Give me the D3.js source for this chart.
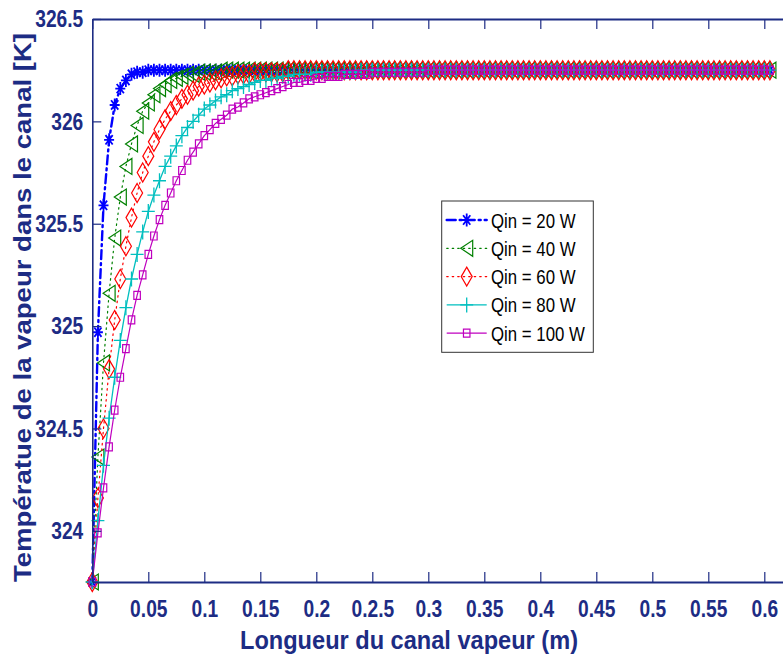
<!DOCTYPE html>
<html>
<head>
<meta charset="utf-8">
<script src="https://cdn.jsdelivr.net/npm/d3@7"></script>
<style>
  body { margin: 0; background: #fff; }
  svg { display: block; }
</style>
</head>
<body>
<svg id="chart" width="783" height="659"></svg>
<script>
// Position along the vapour channel (m)
const xs = [
  0, 0.005, 0.01, 0.015, 0.02, 0.025, 0.03, 0.035, 0.04, 0.045,
  0.05, 0.055, 0.06, 0.065, 0.07, 0.075, 0.08, 0.085, 0.09, 0.095,
  0.1, 0.105, 0.11, 0.115, 0.12, 0.125, 0.13, 0.135, 0.14, 0.145,
  0.15, 0.155, 0.16, 0.165, 0.17, 0.175, 0.18, 0.185, 0.19, 0.195,
  0.2, 0.205, 0.21, 0.215, 0.22, 0.225, 0.23, 0.235, 0.24, 0.245,
  0.25, 0.255, 0.26, 0.265, 0.27, 0.275, 0.28, 0.285, 0.29, 0.295,
  0.3, 0.305, 0.31, 0.315, 0.32, 0.325, 0.33, 0.335, 0.34, 0.345,
  0.35, 0.355, 0.36, 0.365, 0.37, 0.375, 0.38, 0.385, 0.39, 0.395,
  0.4, 0.405, 0.41, 0.415, 0.42, 0.425, 0.43, 0.435, 0.44, 0.445,
  0.45, 0.455, 0.46, 0.465, 0.47, 0.475, 0.48, 0.485, 0.49, 0.495,
  0.5, 0.505, 0.51, 0.515, 0.52, 0.525, 0.53, 0.535, 0.54, 0.545,
  0.55, 0.555, 0.56, 0.565, 0.57, 0.575, 0.58, 0.585, 0.59, 0.595,
  0.6, 0.605
];

// Vapour temperature in the channel (K) for each heat input
const tQ20 = [
  323.75, 324.97, 325.59, 325.91, 326.08, 326.16, 326.20, 326.23, 326.24, 326.24,
  326.25, 326.25, 326.25, 326.25, 326.25, 326.25, 326.25, 326.25, 326.25, 326.25,
  326.25, 326.25, 326.25, 326.25, 326.25, 326.25, 326.25, 326.25, 326.25, 326.25,
  326.25, 326.25, 326.25, 326.25, 326.25, 326.25, 326.25, 326.25, 326.25, 326.25,
  326.25, 326.25, 326.25, 326.25, 326.25, 326.25, 326.25, 326.25, 326.25, 326.25,
  326.25, 326.25, 326.25, 326.25, 326.25, 326.25, 326.25, 326.25, 326.25, 326.25,
  326.25, 326.25, 326.25, 326.25, 326.25, 326.25, 326.25, 326.25, 326.25, 326.25,
  326.25, 326.25, 326.25, 326.25, 326.25, 326.25, 326.25, 326.25, 326.25, 326.25,
  326.25, 326.25, 326.25, 326.25, 326.25, 326.25, 326.25, 326.25, 326.25, 326.25,
  326.25, 326.25, 326.25, 326.25, 326.25, 326.25, 326.25, 326.25, 326.25, 326.25,
  326.25, 326.25, 326.25, 326.25, 326.25, 326.25, 326.25, 326.25, 326.25, 326.25,
  326.25, 326.25, 326.25, 326.25, 326.25, 326.25, 326.25, 326.25, 326.25, 326.25,
  326.25, 326.25
];
const tQ40 = [
  323.75, 324.36, 324.82, 325.16, 325.43, 325.63, 325.78, 325.89, 325.98, 326.05,
  326.09, 326.13, 326.16, 326.18, 326.20, 326.21, 326.22, 326.23, 326.23, 326.24,
  326.24, 326.24, 326.24, 326.25, 326.25, 326.25, 326.25, 326.25, 326.25, 326.25,
  326.25, 326.25, 326.25, 326.25, 326.25, 326.25, 326.25, 326.25, 326.25, 326.25,
  326.25, 326.25, 326.25, 326.25, 326.25, 326.25, 326.25, 326.25, 326.25, 326.25,
  326.25, 326.25, 326.25, 326.25, 326.25, 326.25, 326.25, 326.25, 326.25, 326.25,
  326.25, 326.25, 326.25, 326.25, 326.25, 326.25, 326.25, 326.25, 326.25, 326.25,
  326.25, 326.25, 326.25, 326.25, 326.25, 326.25, 326.25, 326.25, 326.25, 326.25,
  326.25, 326.25, 326.25, 326.25, 326.25, 326.25, 326.25, 326.25, 326.25, 326.25,
  326.25, 326.25, 326.25, 326.25, 326.25, 326.25, 326.25, 326.25, 326.25, 326.25,
  326.25, 326.25, 326.25, 326.25, 326.25, 326.25, 326.25, 326.25, 326.25, 326.25,
  326.25, 326.25, 326.25, 326.25, 326.25, 326.25, 326.25, 326.25, 326.25, 326.25,
  326.25, 326.25
];
const tQ60 = [
  323.75, 324.16, 324.50, 324.79, 325.03, 325.23, 325.39, 325.53, 325.65, 325.75,
  325.83, 325.90, 325.96, 326.01, 326.05, 326.08, 326.11, 326.13, 326.15, 326.17,
  326.18, 326.19, 326.20, 326.21, 326.22, 326.22, 326.23, 326.23, 326.23, 326.24,
  326.24, 326.24, 326.24, 326.24, 326.24, 326.25, 326.25, 326.25, 326.25, 326.25,
  326.25, 326.25, 326.25, 326.25, 326.25, 326.25, 326.25, 326.25, 326.25, 326.25,
  326.25, 326.25, 326.25, 326.25, 326.25, 326.25, 326.25, 326.25, 326.25, 326.25,
  326.25, 326.25, 326.25, 326.25, 326.25, 326.25, 326.25, 326.25, 326.25, 326.25,
  326.25, 326.25, 326.25, 326.25, 326.25, 326.25, 326.25, 326.25, 326.25, 326.25,
  326.25, 326.25, 326.25, 326.25, 326.25, 326.25, 326.25, 326.25, 326.25, 326.25,
  326.25, 326.25, 326.25, 326.25, 326.25, 326.25, 326.25, 326.25, 326.25, 326.25,
  326.25, 326.25, 326.25, 326.25, 326.25, 326.25, 326.25, 326.25, 326.25, 326.25,
  326.25, 326.25, 326.25, 326.25, 326.25, 326.25, 326.25, 326.25, 326.25, 326.25,
  326.25, 326.25
];
const tQ80 = [
  323.75, 324.05, 324.32, 324.55, 324.75, 324.93, 325.09, 325.23, 325.35, 325.46,
  325.56, 325.64, 325.71, 325.78, 325.83, 325.88, 325.93, 325.97, 326.00, 326.03,
  326.06, 326.08, 326.10, 326.12, 326.13, 326.15, 326.16, 326.17, 326.18, 326.19,
  326.20, 326.20, 326.21, 326.21, 326.22, 326.22, 326.23, 326.23, 326.23, 326.23,
  326.24, 326.24, 326.24, 326.24, 326.24, 326.24, 326.24, 326.24, 326.25, 326.25,
  326.25, 326.25, 326.25, 326.25, 326.25, 326.25, 326.25, 326.25, 326.25, 326.25,
  326.25, 326.25, 326.25, 326.25, 326.25, 326.25, 326.25, 326.25, 326.25, 326.25,
  326.25, 326.25, 326.25, 326.25, 326.25, 326.25, 326.25, 326.25, 326.25, 326.25,
  326.25, 326.25, 326.25, 326.25, 326.25, 326.25, 326.25, 326.25, 326.25, 326.25,
  326.25, 326.25, 326.25, 326.25, 326.25, 326.25, 326.25, 326.25, 326.25, 326.25,
  326.25, 326.25, 326.25, 326.25, 326.25, 326.25, 326.25, 326.25, 326.25, 326.25,
  326.25, 326.25, 326.25, 326.25, 326.25, 326.25, 326.25, 326.25, 326.25, 326.25,
  326.25, 326.25
];
const tQ100 = [
  323.75, 323.99, 324.21, 324.41, 324.59, 324.75, 324.89, 325.03, 325.15, 325.25,
  325.35, 325.44, 325.52, 325.59, 325.65, 325.71, 325.76, 325.81, 325.85, 325.89,
  325.93, 325.96, 325.99, 326.01, 326.03, 326.06, 326.07, 326.09, 326.11, 326.12,
  326.13, 326.14, 326.15, 326.16, 326.17, 326.18, 326.19, 326.19, 326.20, 326.20,
  326.21, 326.21, 326.22, 326.22, 326.22, 326.23, 326.23, 326.23, 326.23, 326.23,
  326.24, 326.24, 326.24, 326.24, 326.24, 326.24, 326.24, 326.24, 326.24, 326.24,
  326.25, 326.25, 326.25, 326.25, 326.25, 326.25, 326.25, 326.25, 326.25, 326.25,
  326.25, 326.25, 326.25, 326.25, 326.25, 326.25, 326.25, 326.25, 326.25, 326.25,
  326.25, 326.25, 326.25, 326.25, 326.25, 326.25, 326.25, 326.25, 326.25, 326.25,
  326.25, 326.25, 326.25, 326.25, 326.25, 326.25, 326.25, 326.25, 326.25, 326.25,
  326.25, 326.25, 326.25, 326.25, 326.25, 326.25, 326.25, 326.25, 326.25, 326.25,
  326.25, 326.25, 326.25, 326.25, 326.25, 326.25, 326.25, 326.25, 326.25, 326.25,
  326.25, 326.25
];

const seriesNames = ["Qin = 20 W", "Qin = 40 W", "Qin = 60 W", "Qin = 80 W", "Qin = 100 W"];
const seriesValues = [tQ20, tQ40, tQ60, tQ80, tQ100];

const xTickValues = [0, 0.05, 0.1, 0.15, 0.2, 0.25, 0.3, 0.35, 0.4, 0.45, 0.5, 0.55, 0.6];
const xTickLabels = ["0", "0.05", "0.1", "0.15", "0.2", "0.2.5", "0.3", "0.35", "0.4", "0.45", "0.5", "0.55", "0.6"];
const yTickValues = [324, 324.5, 325, 325.5, 326, 326.5];
const yTickLabels = ["324", "324.5", "325", "325.5", "326", "326.5"];

const xLabel = "Longueur du canal vapeur (m)";
const yLabel = "Températue de la vapeur dans le canal [K]";

// ---- layout & style ----
const NAVY = "#1d2c84";
const FONT = "'Liberation Sans', Arial, Helvetica, sans-serif";
const plot = { left: 92.3, top: 19, bottom: 582, right: 786.7 };

const styles = [
  { color: "#0000ff", width: 2.4, dash: "9,4,2,4", marker: "star",    mw: 10, mh: 13, msw: 1.8 },
  { color: "#008000", width: 1.2, dash: "1.5,4",   marker: "tri",     mw: 12, mh: 16, msw: 1.2 },
  { color: "#ff0000", width: 1.2, dash: "1.5,4",   marker: "diamond", mw: 11, mh: 19, msw: 1.2 },
  { color: "#00bfbf", width: 1.3, dash: null,      marker: "plus",    mw: 13, mh: 15, msw: 1.3 },
  { color: "#bf00bf", width: 1.2, dash: null,      marker: "square",  mw: 6.5, mh: 8, msw: 1.2 }
];

function markerPath(kind, w, h) {
  const a = w / 2, b = h / 2;
  switch (kind) {
    case "star": {
      const c = a * 0.72, d = b * 0.72;
      return `M${-a},0H${a}M0,${-b}V${b}M${-c},${-d}L${c},${d}M${-c},${d}L${c},${-d}`;
    }
    case "tri": return `M${-a},0L${a},${-b}L${a},${b}Z`;
    case "diamond": return `M0,${-b}L${a},0L0,${b}L${-a},0Z`;
    case "plus": return `M${-a},0H${a}M0,${-b}V${b}`;
    case "square": return `M${-a},${-b}H${a}V${b}H${-a}Z`;
  }
}

const svg = d3.select("#chart");
svg.append("rect").attr("width", 783).attr("height", 659).attr("fill", "#fff");

const x = d3.scaleLinear().domain([0, 0.62]).range([plot.left, plot.right]);
const y = d3.scaleLinear().domain([323.75, 326.5]).range([plot.bottom, plot.top]);

// squeeze text horizontally, keeping its anchor
function squeeze(sel, k) {
  sel.each(function () {
    const len = this.getComputedTextLength();
    if (len > 0) {
      d3.select(this).attr("textLength", len * k).attr("lengthAdjust", "spacingAndGlyphs");
    }
  });
}

// ---- series ----
const line = d3.line().x(d => x(d[0])).y(d => y(d[1]));
const gSeries = svg.append("g");
seriesValues.forEach((vals, i) => {
  const st = styles[i];
  const pts = vals.map((v, j) => [xs[j], v]);
  const g = gSeries.append("g");
  g.append("path")
    .attr("d", line(pts))
    .attr("fill", "none")
    .attr("stroke", st.color)
    .attr("stroke-width", st.width)
    .attr("stroke-dasharray", st.dash)
    .attr("stroke-linecap", st.dash ? "round" : "butt");
  g.selectAll("path.m")
    .data(pts)
    .join("path")
    .attr("class", "m")
    .attr("transform", d => `translate(${x(d[0])},${y(d[1])})`)
    .attr("d", markerPath(st.marker, st.mw, st.mh))
    .attr("fill", "none")
    .attr("stroke", st.color)
    .attr("stroke-width", st.msw);
});

// ---- axes ----
function styleAxis(g, width) {
  g.select(".domain").attr("stroke", NAVY).attr("stroke-width", width);
  g.selectAll(".tick line").attr("stroke", NAVY).attr("stroke-width", 1.2);
  g.selectAll(".tick text")
    .attr("fill", NAVY)
    .attr("font-family", FONT)
    .attr("font-weight", "bold")
    .attr("font-size", 24);
}

const gBottom = svg.append("g")
  .attr("transform", `translate(0,${plot.bottom})`)
  .call(d3.axisBottom(x).tickValues(xTickValues)
    .tickFormat((d, i) => xTickLabels[i])
    .tickSizeInner(-10).tickSizeOuter(0).tickPadding(18));
styleAxis(gBottom, 2.2);
gBottom.selectAll(".tick text").attr("dy", "0.71em");

const gTop = svg.append("g")
  .attr("transform", `translate(0,${plot.top})`)
  .call(d3.axisTop(x).tickValues(xTickValues).tickFormat("")
    .tickSizeInner(-10).tickSizeOuter(0));
styleAxis(gTop, 2);

const gLeft = svg.append("g")
  .attr("transform", `translate(${plot.left},0)`)
  .call(d3.axisLeft(y).tickValues(yTickValues)
    .tickFormat((d, i) => yTickLabels[i])
    .tickSizeInner(-9).tickSizeOuter(0).tickPadding(9));
styleAxis(gLeft, 1.6);

squeeze(gBottom.selectAll(".tick text"), 0.8);
squeeze(gLeft.selectAll(".tick text"), 0.8);

// ---- axis titles ----
svg.append("text")
  .attr("x", 409).attr("y", 649)
  .attr("text-anchor", "middle")
  .attr("font-family", FONT).attr("font-weight", "bold").attr("font-size", 25)
  .attr("fill", NAVY)
  .attr("textLength", 338).attr("lengthAdjust", "spacingAndGlyphs")
  .text(xLabel);

svg.append("text")
  .attr("transform", "translate(31,307.5) rotate(-90)")
  .attr("text-anchor", "middle")
  .attr("font-family", FONT).attr("font-weight", "bold").attr("font-size", 23)
  .attr("fill", NAVY)
  .attr("textLength", 549).attr("lengthAdjust", "spacingAndGlyphs")
  .text(yLabel);

// ---- legend ----
const legend = svg.append("g");
legend.append("rect")
  .attr("x", 441.7).attr("y", 201).attr("width", 151.6).attr("height", 151.3)
  .attr("fill", "#fff").attr("stroke", "#333").attr("stroke-width", 1);

seriesNames.forEach((name, i) => {
  const st = styles[i];
  const ry = 220 + i * 28.3;
  const row = legend.append("g");
  row.append("line")
    .attr("x1", 446.7).attr("x2", 486.7).attr("y1", ry).attr("y2", ry)
    .attr("stroke", st.color).attr("stroke-width", st.width)
    .attr("stroke-dasharray", st.dash)
    .attr("stroke-linecap", st.dash ? "round" : "butt");
  row.append("path")
    .attr("transform", `translate(466.7,${ry})`)
    .attr("d", markerPath(st.marker, st.mw, st.mh))
    .attr("fill", "none").attr("stroke", st.color).attr("stroke-width", st.msw);
  row.append("text")
    .attr("x", 491).attr("y", ry).attr("dy", "0.36em")
    .attr("font-family", FONT).attr("font-size", 21).attr("fill", "#000")
    .text(name)
    .call(s => squeeze(s, 0.8));
});
</script>
</body>
</html>
